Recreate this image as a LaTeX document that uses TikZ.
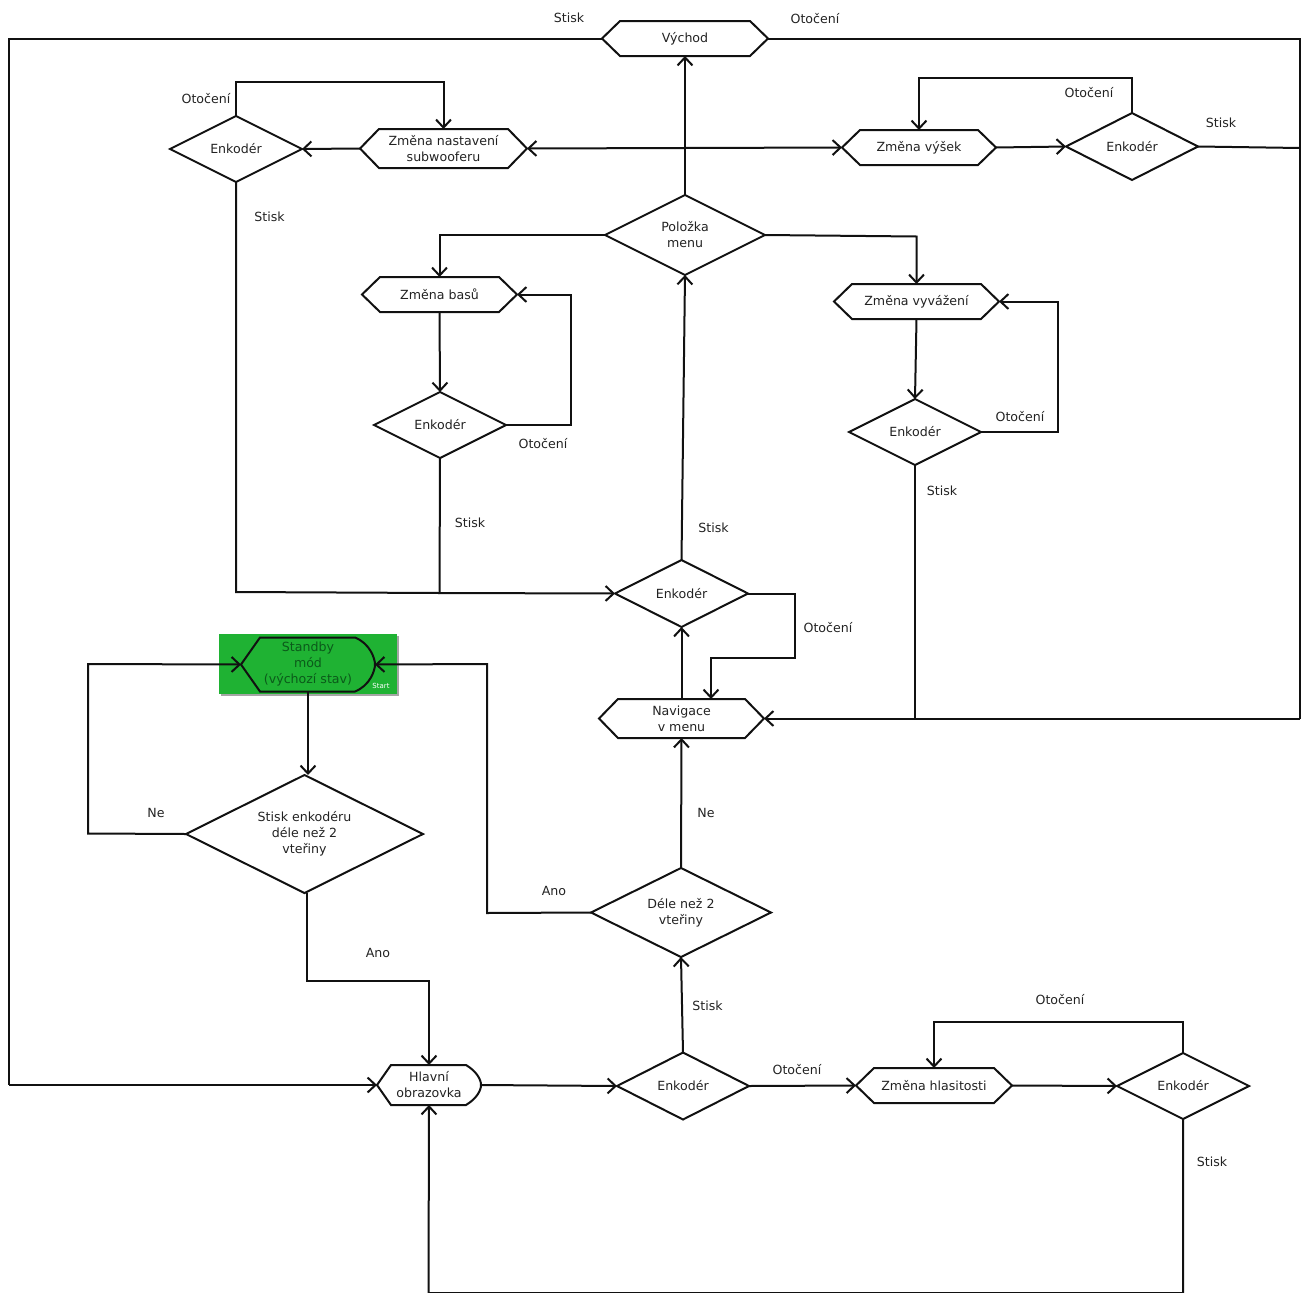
\documentclass[tikz,border=0pt]{standalone}
\usepackage{fontspec}
\setmainfont{DejaVu Sans}
\usetikzlibrary{arrows.meta,shadows}
\definecolor{inkc}{HTML}{111111}
\definecolor{labelc}{HTML}{222222}
\definecolor{startgreen}{HTML}{1FB233}
\definecolor{starttext}{HTML}{0B5A1A}
\tikzset{
  base/.style={inner sep=0pt,outer sep=0pt,align=center,text=labelc,font=\fontsize{12.6}{16}\selectfont,rectangle},
  boxsize/.style 2 args={base,minimum width=#1,minimum height=#2},
  outline/.style={draw=inkc,line width=2pt,line join=miter},
  lab/.style={inner sep=0pt,text=labelc,font=\fontsize{12.6}{16}\selectfont},
  conn/.style={draw=inkc,line width=2pt,line join=miter},
  arr/.style={conn,-{Straight Barb[length=8pt,width=15pt,line width=2pt]}},
  biarr/.style={conn,{Straight Barb[length=8pt,width=15pt,line width=2pt]}-{Straight Barb[length=8pt,width=15pt,line width=2pt]}},
  greenbg/.style={fill=startgreen,draw=none,inner sep=0pt,minimum width=178pt,minimum height=60pt,drop shadow={shadow xshift=1.5pt,shadow yshift=-2pt,fill=black!70,opacity=.5}},
}
\newcommand\hexoutline[2]{\draw[outline] (#1.west) -- ([xshift=#2]#1.north west) -- ([xshift=-#2]#1.north east) -- (#1.east) -- ([xshift=-#2]#1.south east) -- ([xshift=#2]#1.south west) -- cycle;}
\newcommand\roundoutline[3]{\draw[outline] (#1.west) -- ([xshift=#2]#1.north west) -- ([xshift=-#3]#1.north east)
  .. controls ([xshift=-5pt,yshift=-6pt]#1.north east) and ([yshift=6pt]#1.east) .. (#1.east)
  .. controls ([yshift=-6pt]#1.east) and ([xshift=-5pt,yshift=6pt]#1.south east) .. ([xshift=-#3]#1.south east)
  -- ([xshift=#2]#1.south west) -- cycle;}
\newcommand\diaoutline[1]{\draw[outline] (#1.west) -- (#1.north) -- (#1.east) -- (#1.south) -- cycle;}
\begin{document}
\begin{tikzpicture}[x=1pt,y=-1pt]
\useasboundingbox (0,0) rectangle (1302,1293);
% green start background
\node[greenbg] (greenbox) at (308,664) {};
\node[font=\fontsize{7}{8}\selectfont,text=white,inner sep=0pt] (startlab) at (381,686) {Start};
% hexagons
\node[boxsize={166pt}{35pt}] (vychod) at (685,38.5) {Východ};
\node[boxsize={167pt}{39pt}] (subw) at (443.5,148.5) {Změna nastavení\\subwooferu};
\node[boxsize={154pt}{35pt}] (vysek) at (919,147.5) {Změna výšek};
\node[boxsize={155pt}{35pt}] (basy) at (439.5,294.5) {Změna basů};
\node[boxsize={165pt}{35pt}] (vyvaz) at (916.5,301.5) {Změna vyvážení};
\node[boxsize={165pt}{39pt}] (navi) at (681.5,718.5) {Navigace\\v menu};
\node[boxsize={156pt}{35pt}] (hlas) at (934,1085.5) {Změna hlasitosti};
\node[boxsize={134pt}{54pt},text=starttext] (standby) at (308,664.5) {Standby\\mód\\(výchozí stav)};
\node[boxsize={104pt}{40pt}] (hlavni) at (429,1085) {Hlavní\\obrazovka};
\hexoutline{vychod}{18pt}
\hexoutline{subw}{19pt}
\hexoutline{vysek}{18pt}
\hexoutline{basy}{18pt}
\hexoutline{vyvaz}{18pt}
\hexoutline{navi}{19pt}
\hexoutline{hlas}{18pt}
\roundoutline{standby}{19pt}{20pt}
\roundoutline{hlavni}{14pt}{15pt}
% diamonds
\node[boxsize={132pt}{66pt}] (etl) at (236,149) {Enkodér};
\node[boxsize={132pt}{67pt}] (etr) at (1132,146.5) {Enkodér};
\node[boxsize={160pt}{80pt}] (polozka) at (685,235) {Položka\\menu};
\node[boxsize={132pt}{66pt}] (ebas) at (440,425) {Enkodér};
\node[boxsize={132pt}{66pt}] (evyv) at (915,432) {Enkodér};
\node[boxsize={133pt}{67pt}] (emid) at (681.5,593.5) {Enkodér};
\node[boxsize={237pt}{118pt}] (stisk) at (304.5,834) {Stisk enkodéru\\déle než 2\\vteřiny};
\node[boxsize={180pt}{89pt}] (dele) at (681,912.5) {Déle než 2\\vteřiny};
\node[boxsize={132pt}{67pt}] (ebot) at (683,1086) {Enkodér};
\node[boxsize={132pt}{66pt}] (ebr) at (1183,1086) {Enkodér};
\diaoutline{etl}
\diaoutline{etr}
\diaoutline{polozka}
\diaoutline{ebas}
\diaoutline{evyv}
\diaoutline{emid}
\diaoutline{stisk}
\diaoutline{dele}
\diaoutline{ebot}
\diaoutline{ebr}
% free bend points
\coordinate (leftTop) at (9,38.5);
\coordinate (leftBot) at (9,1085);
\coordinate (rightTop) at (1300,38.5);
\coordinate (rightBot) at (1300,718.5);
\coordinate (etlUp) at (236,82);
\coordinate (subUp) at (443.5,82);
\coordinate (etrUp) at (1132,78);
\coordinate (vysUp) at (919,78);
\coordinate (etrOut) at (1300,148);
\coordinate (etlDown) at (236,592);
\coordinate (ebasDown) at (439.5,593);
\coordinate (basR1) at (571,425);
\coordinate (basR2) at (571,294.5);
\coordinate (vyvR1) at (1058,432);
\coordinate (vyvR2) at (1058,301.5);
\coordinate (evyvDown) at (915,718.5);
\coordinate (emidR1) at (795,593.5);
\coordinate (emidR2) at (795,658);
\coordinate (naviIn1) at (711,658);
\coordinate (naviIn2) at (711,699);
\coordinate (deleL1) at (487,913);
\coordinate (deleL2) at (487,664);
\coordinate (stL1) at (88,833.5);
\coordinate (stL2) at (88,664);
\coordinate (sbDown) at (308,691);
\coordinate (sbIn) at (308,775);
\coordinate (stOut) at (307,893);
\coordinate (stB1) at (307,981);
\coordinate (stB2) at (429,981);
\coordinate (brUp1) at (1183,1022);
\coordinate (brUp2) at (934,1022);
\coordinate (brDown1) at (1183,1293);
\coordinate (brDown2) at (428.5,1293);
\coordinate (polE) at (916.5,236.5);
\coordinate (polW) at (439.5,235);
% connectors
\draw[conn] (vychod.west) -- (leftTop) -- (leftBot);
\draw[arr] (leftBot) -- (hlavni.west);
\draw[conn] (vychod.east) -- (rightTop) -- (rightBot);
\draw[arr] (rightBot) -- (navi.east);
\draw[arr] (polozka.north) -- (vychod.south);
\draw[arr] (polozka.west) -- (polW) -- (basy.north);
\draw[arr] (polozka.east) -- (polE) -- (vyvaz.north);
\draw[biarr] (subw.east) -- (vysek.west);
\draw[arr] (etl.north) -- (etlUp) -- (subUp) -- (subw.north);
\draw[arr] (subw.west) -- (etl.east);
\draw[conn] (etl.south) -- (etlDown) -- (ebasDown);
\draw[arr] (ebas.south) -- (ebasDown) -- (emid.west);
\draw[arr] (vysek.east) -- (etr.west);
\draw[arr] (etr.north) -- (etrUp) -- (vysUp) -- (vysek.north);
\draw[conn] (etr.east) -- (etrOut);
\draw[arr] (basy.south) -- (ebas.north);
\draw[arr] (ebas.east) -- (basR1) -- (basR2) -- (basy.east);
\draw[arr] (vyvaz.south) -- (evyv.north);
\draw[arr] (evyv.east) -- (vyvR1) -- (vyvR2) -- (vyvaz.east);
\draw[conn] (evyv.south) -- (evyvDown);
\draw[arr] (emid.north) -- (polozka.south);
\draw[arr] (emid.east) -- (emidR1) -- (emidR2) -- (naviIn1) -- (naviIn2);
\draw[arr] (navi.north) -- (emid.south);
\draw[arr] (dele.north) -- (navi.south);
\draw[arr] (dele.west) -- (deleL1) -- (deleL2) -- (standby.east);
\draw[arr] (stisk.west) -- (stL1) -- (stL2) -- (standby.west);
\draw[arr] (sbDown) -- (sbIn);
\draw[arr] (stOut) -- (stB1) -- (stB2) -- (hlavni.north);
\draw[arr] (hlavni.east) -- (ebot.west);
\draw[arr] (ebot.north) -- (dele.south);
\draw[arr] (ebot.east) -- (hlas.west);
\draw[arr] (hlas.east) -- (ebr.west);
\draw[arr] (ebr.north) -- (brUp1) -- (brUp2) -- (hlas.north);
\draw[arr] (ebr.south) -- (brDown1) -- (brDown2) -- (hlavni.south);
% labels
\node[lab] (l1) at (569,17.5) {Stisk};
\node[lab] (l2) at (815,18.5) {Otočení};
\node[lab] (l3) at (206,98.5) {Otočení};
\node[lab] (l4) at (1089,92.5) {Otočení};
\node[lab] (l5) at (1221,122.5) {Stisk};
\node[lab] (l6) at (269.5,216.5) {Stisk};
\node[lab] (l7) at (543,443.5) {Otočení};
\node[lab] (l8) at (470,522.5) {Stisk};
\node[lab] (l9) at (1020,416.5) {Otočení};
\node[lab] (l10) at (942,490.5) {Stisk};
\node[lab] (l11) at (713.5,527.5) {Stisk};
\node[lab] (l12) at (828,627.5) {Otočení};
\node[lab] (l13) at (156,812.5) {Ne};
\node[lab] (l14) at (706,812.5) {Ne};
\node[lab] (l15) at (554,890.5) {Ano};
\node[lab] (l16) at (378,952.5) {Ano};
\node[lab] (l17) at (707.5,1005.5) {Stisk};
\node[lab] (l18) at (1060,999.5) {Otočení};
\node[lab] (l19) at (797,1069.5) {Otočení};
\node[lab] (l20) at (1212,1161.5) {Stisk};
\end{tikzpicture}
\end{document}
